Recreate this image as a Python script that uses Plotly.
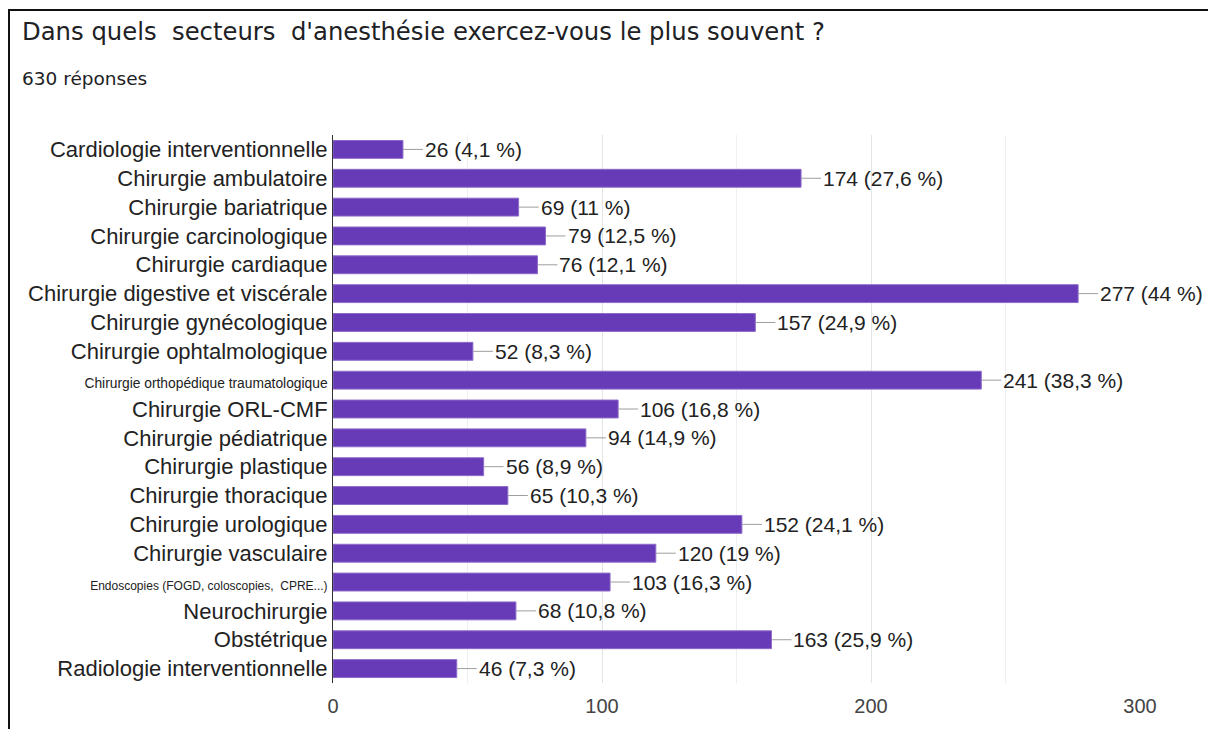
import plotly.graph_objects as go

categories = [
    "Cardiologie interventionnelle", "Chirurgie ambulatoire", "Chirurgie bariatrique",
    "Chirurgie carcinologique", "Chirurgie cardiaque", "Chirurgie digestive et viscérale",
    "Chirurgie gynécologique", "Chirurgie ophtalmologique", "Chirurgie orthopédique traumatologique",
    "Chirurgie ORL-CMF", "Chirurgie pédiatrique", "Chirurgie plastique",
    "Chirurgie thoracique", "Chirurgie urologique", "Chirurgie vasculaire",
    "Endoscopies (FOGD, coloscopies,  CPRE...)", "Neurochirurgie", "Obstétrique",
    "Radiologie interventionnelle",
]
values = [26, 174, 69, 79, 76, 277, 157, 52, 241, 106, 94, 56, 65, 152, 120, 103, 68, 163, 46]
percents = ["4,1", "27,6", "11", "12,5", "12,1", "44", "24,9", "8,3", "38,3", "16,8",
            "14,9", "8,9", "10,3", "24,1", "19", "16,3", "10,8", "25,9", "7,3"]
small_label_sizes = {"Chirurgie orthopédique traumatologique": 13.8,
                     "Endoscopies (FOGD, coloscopies,  CPRE...)": 12}
x_ticks = [0, 100, 200, 300]
title_text = "Dans quels  secteurs  d'anesthésie exercez-vous le plus souvent ?"
subtitle_text = "630 réponses"

ticktext = []
for c in categories:
    if c in small_label_sizes:
        ticktext.append(f"<span style='font-size:{small_label_sizes[c]}px'>{c}</span>")
    else:
        ticktext.append(c)

# page has an 8px body offset: convert screen px to figure px
OFF = 8
W, H = 1216, 729
pl, pr, pt, pb = 333 - OFF, W - (1140 - OFF), 135 - OFF, H - (683 - OFF)
pw, ph = W - pl - pr, H - pt - pb


def px_x(sx):
    return (sx - OFF - pl) / pw


def px_y(sy):
    return (H - pb - (sy - OFF)) / ph


fig = go.Figure()
fig.add_trace(go.Bar(
    y=categories, x=values, orientation="h",
    marker=dict(color="#673AB7", line=dict(color="#8c6bc9", width=1)),
    width=0.62, hoverinfo="skip",
))

for c, v, p in zip(categories, values, percents):
    fig.add_annotation(
        x=v, y=c, xref="x", yref="y",
        text=f"{v} ({p} %)", showarrow=True, arrowhead=0, arrowwidth=1,
        arrowcolor="#9e9e9e", ax=20, ay=0, xanchor="left", standoff=0,
        font=dict(family="Liberation Sans", size=21, color="#222222"),
    )

fig.add_annotation(x=px_x(20), y=px_y(31), xref="paper", yref="paper",
                   text=title_text, showarrow=False, xanchor="left", yanchor="middle",
                   font=dict(family="DejaVu Sans", size=24.3, color="#202124"))
fig.add_annotation(x=px_x(20), y=px_y(78), xref="paper", yref="paper",
                   text=subtitle_text, showarrow=False, xanchor="left", yanchor="middle",
                   font=dict(family="DejaVu Sans", size=18.5, color="#202124"))

fig.add_shape(type="line", xref="paper", yref="paper", x0=px_x(8), x1=px_x(1230),
              y0=px_y(10), y1=px_y(10), line=dict(color="#111111", width=2))
fig.add_shape(type="line", xref="paper", yref="paper", x0=px_x(9), x1=px_x(9),
              y0=px_y(10), y1=px_y(740), line=dict(color="#111111", width=2))

fig.update_layout(
    width=W, height=H,
    margin=dict(l=pl, r=pr, t=pt, b=pb),
    paper_bgcolor="white", plot_bgcolor="white",
    showlegend=False,
    xaxis=dict(
        range=[0, 300], tickvals=x_ticks, ticktext=[str(t) for t in x_ticks],
        showgrid=True, gridcolor="#e4e4e4", gridwidth=1,
        minor=dict(dtick=50, showgrid=True, gridcolor="#efefef"),
        zeroline=False, showline=False, ticks="",
        tickfont=dict(family="Liberation Sans", size=20, color="#444444"),
        ticklabelstandoff=9, fixedrange=True,
    ),
    yaxis=dict(
        type="category", autorange="reversed",
        tickvals=categories, ticktext=ticktext,
        showline=True, linecolor="#333333", linewidth=1,
        showgrid=False, ticks="",
        tickfont=dict(family="Liberation Sans", size=22, color="#222222"),
        ticklabelstandoff=0, fixedrange=True,
    ),
)

fig.write_html("out.html")
